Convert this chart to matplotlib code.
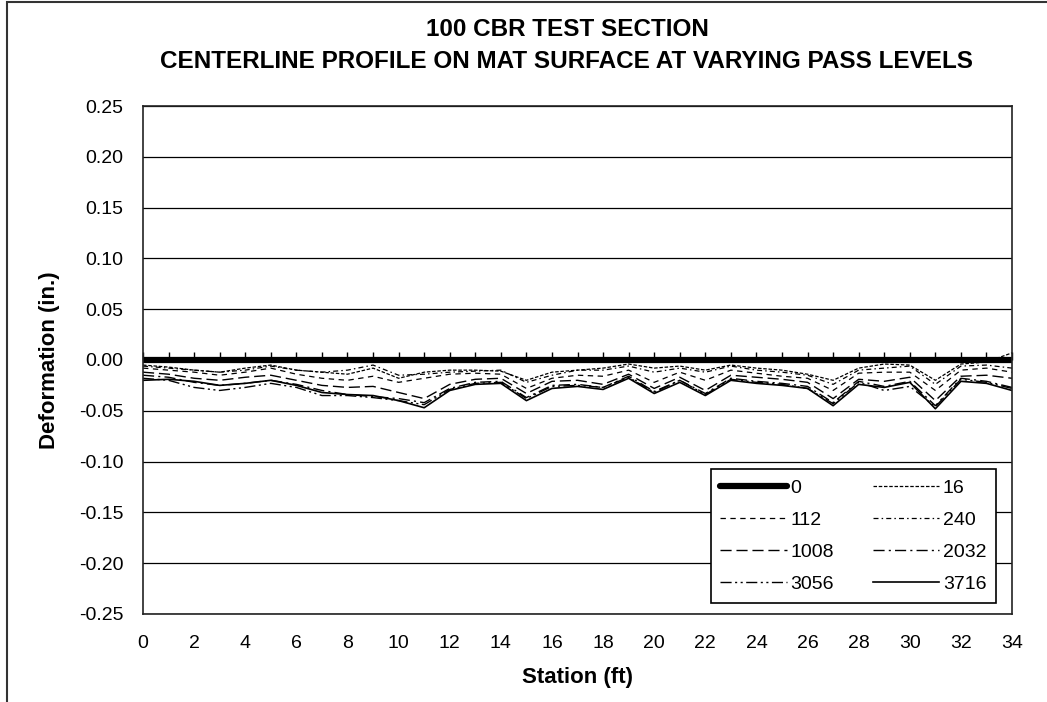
import numpy as np
import matplotlib
matplotlib.use('Agg')
import matplotlib.pyplot as plt
from matplotlib.patches import Rectangle
from matplotlib.ticker import FuncFormatter

plt.rcParams['font.family'] = ['Liberation Sans', 'DejaVu Sans']

# ── Données : station (ft) et déformation (in.) par niveau de passes ──
station = list(range(0, 35))

d0 = [0.0] * 35
d16 = [-0.005, -0.007, -0.010, -0.012, -0.008, -0.005, -0.010, -0.012, -0.014, -0.008,
       -0.018, -0.012, -0.010, -0.010, -0.011, -0.020, -0.012, -0.010, -0.008, -0.004,
       -0.008, -0.006, -0.010, -0.005, -0.008, -0.010, -0.014, -0.020, -0.008, -0.004,
       -0.005, -0.020, -0.004, -0.002, 0.007]
d112 = [-0.008, -0.010, -0.012, -0.015, -0.012, -0.008, -0.014, -0.018, -0.020, -0.016,
        -0.022, -0.018, -0.014, -0.013, -0.014, -0.028, -0.018, -0.015, -0.016, -0.010,
        -0.022, -0.012, -0.020, -0.010, -0.013, -0.016, -0.018, -0.030, -0.013, -0.012,
        -0.012, -0.030, -0.010, -0.008, -0.012]
d240 = [-0.006, -0.008, -0.010, -0.012, -0.010, -0.006, -0.010, -0.012, -0.010, -0.005,
        -0.015, -0.014, -0.012, -0.011, -0.010, -0.022, -0.015, -0.010, -0.010, -0.006,
        -0.012, -0.008, -0.012, -0.006, -0.010, -0.012, -0.015, -0.024, -0.010, -0.008,
        -0.006, -0.024, -0.006, -0.005, -0.008]
d1008 = [-0.012, -0.014, -0.018, -0.020, -0.017, -0.015, -0.020, -0.025, -0.027, -0.026,
         -0.032, -0.038, -0.024, -0.019, -0.018, -0.033, -0.021, -0.020, -0.024, -0.014,
         -0.028, -0.017, -0.030, -0.015, -0.017, -0.019, -0.022, -0.038, -0.019, -0.021,
         -0.017, -0.040, -0.016, -0.015, -0.018]
d2032 = [-0.015, -0.017, -0.022, -0.025, -0.023, -0.020, -0.024, -0.030, -0.034, -0.036,
         -0.038, -0.042, -0.028, -0.022, -0.021, -0.037, -0.025, -0.024, -0.027, -0.016,
         -0.031, -0.020, -0.033, -0.018, -0.021, -0.023, -0.026, -0.042, -0.021, -0.026,
         -0.021, -0.045, -0.018, -0.021, -0.027]
d3056 = [-0.018, -0.020, -0.027, -0.030, -0.027, -0.023, -0.027, -0.035, -0.035, -0.037,
         -0.040, -0.044, -0.029, -0.023, -0.022, -0.038, -0.026, -0.025, -0.027, -0.017,
         -0.032, -0.020, -0.034, -0.019, -0.022, -0.024, -0.028, -0.043, -0.022, -0.030,
         -0.026, -0.046, -0.019, -0.022, -0.028]
d3716 = [-0.020, -0.019, -0.021, -0.025, -0.023, -0.020, -0.025, -0.032, -0.034, -0.035,
         -0.040, -0.047, -0.030, -0.024, -0.023, -0.040, -0.028, -0.026, -0.029, -0.018,
         -0.033, -0.022, -0.035, -0.020, -0.023, -0.025, -0.028, -0.045, -0.024, -0.027,
         -0.022, -0.048, -0.021, -0.023, -0.030]

labels = ["0", "16", "112", "240", "1008", "2032", "3056", "3716"]
series = [d0, d16, d112, d240, d1008, d2032, d3056, d3716]

styles = [
    dict(linestyle="-", linewidth=4.5, solid_capstyle="round"),
    dict(linestyle=(0, (2.8, 1.4)), linewidth=0.9),
    dict(linestyle=(0, (4.3, 3.6)), linewidth=0.9),
    dict(linestyle=(0, (4, 2.5, 1.2, 2.5)), linewidth=0.9),
    dict(linestyle=(0, (8, 3.5)), linewidth=1.0),
    dict(linestyle=(0, (8, 3, 1.5, 3)), linewidth=1.0),
    dict(linestyle=(0, (8, 2.5, 1.5, 2.5, 1.5, 2.5)), linewidth=1.0),
    dict(linestyle="-", linewidth=1.2),
]

fig = plt.figure(figsize=(10.47, 7.02), dpi=100)
ax = fig.add_axes([0.1366, 0.1254, 0.83, 0.7236])

lines = []
for y, lab, st in zip(series, labels, styles):
    ln, = ax.plot(station, y, color="black", label=lab, **st)
    lines.append(ln)

ax.set_xlim(0, 34)
ax.set_ylim(-0.25, 0.25)
ax.set_xticks(np.arange(0, 35, 2))
ax.set_yticks(np.arange(-0.25, 0.2501, 0.05))
ax.yaxis.set_major_formatter(FuncFormatter(lambda v, p: f"{round(v, 2) + 0.0:.2f}"))
ax.tick_params(axis="both", length=0, labelsize=14)
ax.tick_params(axis="x", pad=15)
ax.tick_params(axis="y", pad=14)
ax.yaxis.grid(True, color="black", linewidth=0.9)
ax.set_axisbelow(True)
for sp in ax.spines.values():
    sp.set_color("#222222")
    sp.set_linewidth(1.2)

# axe horizontal croisant à 0 (graduations Excel)
sec = ax.secondary_xaxis(0.5)
sec.set_xticks(np.arange(0, 35, 1))
sec.tick_params(direction="out", length=6, width=1, labelbottom=False, labeltop=False)
sec.spines["bottom"].set_visible(False)
sec.spines["top"].set_visible(False)

ax.set_xlabel("Station (ft)", fontsize=16, fontweight="bold")
ax.set_ylabel("Deformation (in.)", fontsize=16, fontweight="bold")
ax.xaxis.set_label_coords(0.5, -0.104)
ax.yaxis.set_label_coords(-0.0955, 0.5)

fig.text(567 / 1047, 1 - 30 / 702, "100 CBR TEST SECTION", ha="center", va="center",
         fontsize=17.5, fontweight="bold")
fig.text(567 / 1047, 1 - 61 / 702, "CENTERLINE PROFILE ON MAT SURFACE AT VARYING PASS LEVELS",
         ha="center", va="center", fontsize=17.5, fontweight="bold")

# légende remplie ligne par ligne comme dans Excel
order = [0, 2, 4, 6, 1, 3, 5, 7]
leg = ax.legend([lines[i] for i in order], [labels[i] for i in order],
                ncol=2, loc="lower right", bbox_to_anchor=(0.9816, 0.0217),
                borderaxespad=0, fontsize=14, frameon=True, fancybox=False,
                handlelength=3.4, handletextpad=0.2, columnspacing=2.0,
                labelspacing=0.75, borderpad=0.5)
leg.get_frame().set_edgecolor("black")
leg.get_frame().set_linewidth(1.2)
leg.get_frame().set_alpha(1)

# cadre extérieur du graphique
fig.patches.append(Rectangle((7 / 1047, -0.1), 1.2, 1.1 - 2 / 702, transform=fig.transFigure,
                             fill=False, edgecolor="#333333", linewidth=1.5))

fig.savefig("out.png", dpi=100)
